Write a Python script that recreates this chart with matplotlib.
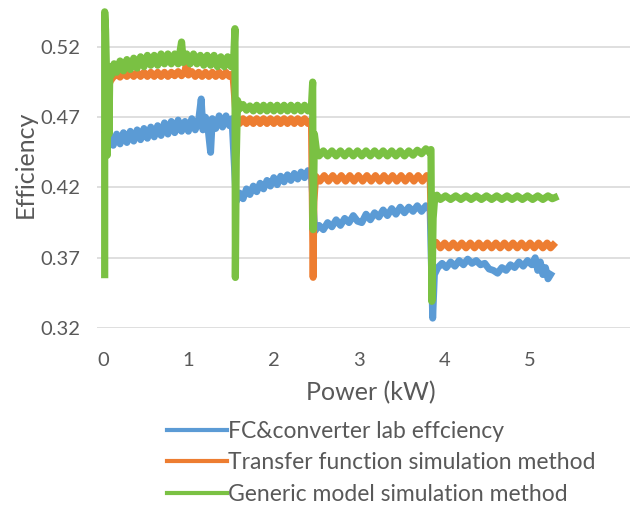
import matplotlib
matplotlib.use("Agg")
import matplotlib.pyplot as plt

plt.rcParams['font.family'] = ['Lato', 'DejaVu Sans']

# ---------------- data ----------------
lab_x = [0.03, 0.05, 0.08, 0.12, 0.16, 0.20, 0.24, 0.28, 0.32, 0.36, 0.40, 0.44,
         0.48, 0.52, 0.56, 0.60, 0.64, 0.68, 0.72, 0.76, 0.80, 0.84, 0.88, 0.92,
         0.96, 1.00, 1.04, 1.08, 1.12, 1.15, 1.17, 1.20, 1.23, 1.26, 1.28, 1.32,
         1.36, 1.40, 1.44, 1.48, 1.51,
         1.56, 1.60, 1.64, 1.68, 1.72, 1.76, 1.80, 1.84, 1.88, 1.92, 1.96, 2.00,
         2.04, 2.08, 2.12, 2.16, 2.20, 2.24, 2.28, 2.32, 2.36, 2.40, 2.44,
         2.48, 2.53, 2.58, 2.63, 2.68, 2.73, 2.78, 2.83, 2.88, 2.93, 2.98, 3.03,
         3.08, 3.13, 3.18, 3.23, 3.28, 3.33, 3.38, 3.43, 3.48, 3.53, 3.58, 3.63,
         3.68, 3.73, 3.78, 3.83, 3.86, 3.88,
         3.92, 3.97, 4.02, 4.07, 4.12, 4.17, 4.22, 4.27, 4.32, 4.37, 4.42, 4.47,
         4.52, 4.57, 4.62, 4.67, 4.72, 4.77, 4.82, 4.87, 4.92, 4.97, 5.02, 5.06,
         5.09, 5.12, 5.15, 5.18, 5.21, 5.24]
lab_y = [0.458, 0.451, 0.457, 0.450, 0.458, 0.451, 0.459, 0.452, 0.460, 0.453, 0.461, 0.454,
         0.462, 0.455, 0.463, 0.456, 0.464, 0.457, 0.466, 0.458, 0.467, 0.459, 0.468, 0.460,
         0.467, 0.460, 0.469, 0.461, 0.468, 0.483, 0.461, 0.470, 0.462, 0.445, 0.469, 0.462,
         0.471, 0.463, 0.471, 0.464, 0.469,
         0.410, 0.416, 0.412, 0.419, 0.415, 0.421, 0.417, 0.423, 0.419, 0.425, 0.421, 0.427,
         0.422, 0.428, 0.424, 0.429, 0.425, 0.430, 0.426, 0.431, 0.427, 0.432, 0.429,
         0.389, 0.393, 0.390, 0.395, 0.392, 0.397, 0.393, 0.398, 0.395, 0.400, 0.396, 0.395,
         0.401, 0.397, 0.402, 0.399, 0.404, 0.400, 0.405, 0.401, 0.406, 0.402, 0.406, 0.403,
         0.407, 0.403, 0.407, 0.404, 0.327, 0.358,
         0.363, 0.366, 0.363, 0.367, 0.364, 0.368, 0.365, 0.369, 0.366, 0.368, 0.365, 0.366,
         0.362, 0.361, 0.359, 0.363, 0.361, 0.365, 0.363, 0.367, 0.364, 0.368, 0.365, 0.370,
         0.361, 0.367, 0.358, 0.363, 0.355, 0.358]

tf_x = [0.06, 0.09, 0.12, 0.16, 0.20, 0.24, 0.28, 0.32, 0.36, 0.40, 0.44, 0.48,
        0.52, 0.56, 0.60, 0.64, 0.68, 0.72, 0.76, 0.80, 0.84, 0.88, 0.92, 0.96,
        0.98, 1.00, 1.04, 1.08, 1.12, 1.16, 1.20, 1.24, 1.28, 1.32, 1.36, 1.40,
        1.44, 1.48, 1.52,
        1.56, 1.60, 1.64, 1.68, 1.72, 1.76, 1.80, 1.84, 1.88, 1.92, 1.96, 2.00,
        2.04, 2.08, 2.12, 2.16, 2.20, 2.24, 2.28, 2.32, 2.36, 2.40, 2.44,
        2.46, 2.47,
        2.49, 2.54, 2.59, 2.64, 2.69, 2.74, 2.79, 2.84, 2.89, 2.94, 2.99, 3.04,
        3.09, 3.14, 3.19, 3.24, 3.29, 3.34, 3.39, 3.44, 3.49, 3.54, 3.59, 3.64,
        3.69, 3.74, 3.79, 3.83, 3.85,
        3.90, 3.95, 4.00, 4.05, 4.10, 4.15, 4.20, 4.25, 4.30, 4.35, 4.40, 4.45,
        4.50, 4.55, 4.60, 4.65, 4.70, 4.75, 4.80, 4.85, 4.90, 4.95, 5.00, 5.05,
        5.10, 5.15, 5.20, 5.24, 5.27]
tf_y = [0.4920, 0.4960, 0.4985, 0.5010, 0.4985, 0.5015, 0.4990, 0.5015, 0.4990, 0.5020, 0.4990, 0.5020,
        0.4990, 0.5020, 0.4990, 0.5020, 0.4990, 0.5020, 0.4990, 0.5020, 0.4995, 0.5025, 0.4995, 0.5030,
        0.5090, 0.5000, 0.5025, 0.4990, 0.5020, 0.4990, 0.5020, 0.4990, 0.5020, 0.4990, 0.5020, 0.4990,
        0.5020, 0.4990, 0.5010,
        0.4690, 0.4655, 0.4690, 0.4655, 0.4690, 0.4655, 0.4690, 0.4655, 0.4690, 0.4655, 0.4690, 0.4655,
        0.4690, 0.4655, 0.4690, 0.4655, 0.4690, 0.4655, 0.4690, 0.4655, 0.4690, 0.4655, 0.4680,
        0.3560, 0.4100,
        0.4280, 0.4245, 0.4285, 0.4245, 0.4285, 0.4245, 0.4285, 0.4245, 0.4285, 0.4245, 0.4285, 0.4245,
        0.4285, 0.4245, 0.4285, 0.4245, 0.4285, 0.4245, 0.4285, 0.4245, 0.4285, 0.4245, 0.4285, 0.4245,
        0.4285, 0.4245, 0.4285, 0.4260, 0.3800,
        0.3810, 0.3770, 0.3805, 0.3770, 0.3805, 0.3770, 0.3805, 0.3770, 0.3805, 0.3770, 0.3805, 0.3770,
        0.3805, 0.3770, 0.3805, 0.3770, 0.3805, 0.3770, 0.3805, 0.3770, 0.3805, 0.3770, 0.3805, 0.3770,
        0.3805, 0.3770, 0.3805, 0.3770, 0.3790]

gm_x = [0.02, 0.02, 0.03, 0.04, 0.05, 0.06, 0.07, 0.08, 0.10, 0.13, 0.16, 0.20,
        0.24, 0.28, 0.32, 0.36, 0.40, 0.44, 0.48, 0.52, 0.56, 0.60, 0.64, 0.68,
        0.72, 0.76, 0.80, 0.84, 0.88, 0.92, 0.94, 0.98, 1.02, 1.06, 1.10, 1.14,
        1.18, 1.22, 1.26, 1.30, 1.34, 1.38, 1.42, 1.46, 1.50, 1.53,
        1.545, 1.55, 1.56, 1.575, 1.60, 1.64, 1.68, 1.72, 1.76, 1.80, 1.84, 1.88,
        1.92, 1.96, 2.00, 2.04, 2.08, 2.12, 2.16, 2.20, 2.24, 2.28, 2.32, 2.36,
        2.40, 2.44,
        2.455, 2.46, 2.475, 2.50,
        2.53, 2.58, 2.63, 2.68, 2.73, 2.78, 2.83, 2.88, 2.93, 2.98, 3.03, 3.08,
        3.13, 3.18, 3.23, 3.28, 3.33, 3.38, 3.43, 3.48, 3.53, 3.58, 3.63, 3.68,
        3.73, 3.78, 3.82, 3.84,
        3.85, 3.865, 3.88, 3.91,
        3.95, 4.01, 4.07, 4.13, 4.19, 4.25, 4.31, 4.37, 4.43, 4.49, 4.55, 4.61,
        4.67, 4.73, 4.79, 4.85, 4.91, 4.97, 5.03, 5.09, 5.15, 5.21, 5.26, 5.29]
gm_y = [0.358, 0.545, 0.532, 0.505, 0.443, 0.500, 0.458, 0.506, 0.500, 0.508, 0.502, 0.510,
        0.503, 0.511, 0.504, 0.512, 0.505, 0.513, 0.506, 0.514, 0.507, 0.514, 0.507, 0.515,
        0.508, 0.515, 0.508, 0.515, 0.508, 0.5235, 0.509, 0.515, 0.508, 0.515, 0.508, 0.514,
        0.507, 0.514, 0.507, 0.514, 0.506, 0.513, 0.506, 0.513, 0.506, 0.511,
        0.533, 0.356, 0.440, 0.482, 0.476, 0.479, 0.475, 0.478, 0.4745, 0.4785, 0.4745, 0.4785,
        0.4745, 0.4785, 0.4745, 0.4785, 0.4745, 0.4785, 0.4745, 0.4785, 0.4745, 0.4785, 0.4745, 0.4785,
        0.4745, 0.4770,
        0.495, 0.390, 0.458, 0.446,
        0.4425, 0.4460, 0.4425, 0.4460, 0.4425, 0.4460, 0.4425, 0.4460, 0.4425, 0.4460, 0.4425, 0.4460,
        0.4425, 0.4460, 0.4425, 0.4460, 0.4425, 0.4460, 0.4425, 0.4460, 0.4425, 0.4460, 0.4430, 0.4465,
        0.4440, 0.4475, 0.4450, 0.4470,
        0.339, 0.398, 0.410, 0.4145,
        0.4115, 0.4140, 0.4115, 0.4140, 0.4115, 0.4140, 0.4115, 0.4140, 0.4115, 0.4140, 0.4115, 0.4140,
        0.4115, 0.4140, 0.4115, 0.4140, 0.4115, 0.4140, 0.4115, 0.4140, 0.4115, 0.4140, 0.4120, 0.4128]

series_names = ["FC&converter lab effciency",
                "Transfer function simulation method",
                "Generic model simulation method"]
y_ticks = [0.32, 0.37, 0.42, 0.47, 0.52]
x_ticks = [0, 1, 2, 3, 4, 5]

# ---------------- drawing ----------------
W, H = 632, 507
fig = plt.figure(figsize=(W / 100, H / 100), dpi=100)
ax = fig.add_axes([97 / W, (H - 328) / H, (630 - 97) / W, (328 - 2) / H])

blue, orange, green = '#5B9BD5', '#ED7D31', '#7AC143'
l1, = ax.plot(lab_x, lab_y, color=blue, lw=5.0)
l2, = ax.plot(tf_x, tf_y, color=orange, lw=5.0)
l3, = ax.plot(gm_x, gm_y, color=green, lw=5.2)

ax.set_xlim(-0.07, 6.17)
ax.set_ylim(0.32, 0.552)
ax.set_yticks(y_ticks)
ax.set_yticklabels([f"{v:.2f}" for v in y_ticks])
ax.set_xticks(x_ticks)
ax.set_xticklabels([str(v) for v in x_ticks])
ax.grid(axis='y', color='#D9D9D9', lw=1.2)
ax.set_axisbelow(True)
for s in ax.spines.values():
    s.set_visible(False)
ax.tick_params(length=0, labelsize=14.5, colors='#595959', pad=12)
ax.tick_params(axis='x', pad=17)

ax.set_ylabel('Efficiency', fontsize=18, color='#595959')
ax.yaxis.set_label_coords(-0.135, 0.5015)
ax.set_xlabel('Power (kW)', fontsize=18, color='#595959')
ax.xaxis.set_label_coords(0.514, -0.199)
ax.xaxis.label.set_va('center')
ax.yaxis.label.set_va('center')

leg = fig.legend([l1, l2, l3], series_names, loc='upper left',
                 bbox_to_anchor=(167 / W, 1 - 421 / H), frameon=False,
                 fontsize=16.5, handlelength=2.62, handletextpad=0.05,
                 labelspacing=0.45, borderpad=0, borderaxespad=0)
for t in leg.get_texts():
    t.set_color('#595959')
for h in leg.legend_handles:
    h.set_linewidth(3.0)

fig.savefig('out.png', dpi=100)
